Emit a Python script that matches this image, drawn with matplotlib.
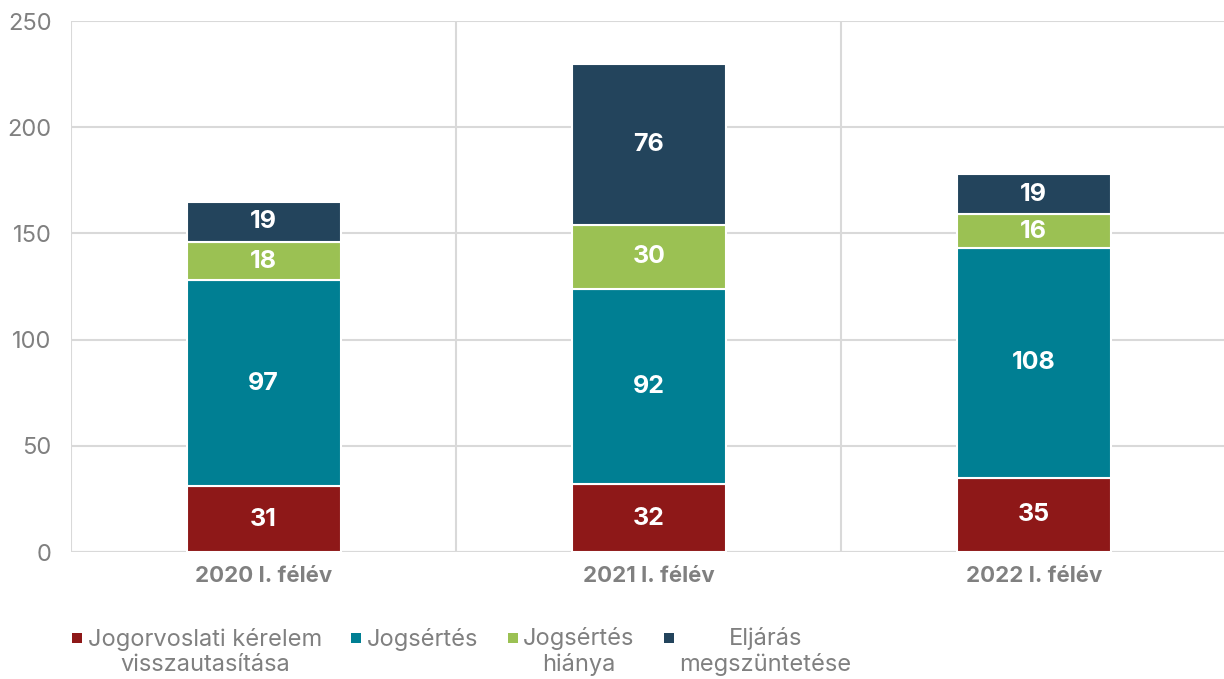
import matplotlib
matplotlib.use("Agg")
import matplotlib.pyplot as plt
from matplotlib.patches import Patch, Rectangle
from matplotlib.legend_handler import HandlerPatch
import numpy as np

categories = ["2020 I. félév", "2021 I. félév", "2022 I. félév"]
series_names = ["Jogorvoslati kérelem\nvisszautasítása", "Jogsértés",
                "Jogsértés\nhiánya", "Eljárás\nmegszüntetése"]
jogorvoslati = [31, 32, 35]
jogsertes = [97, 92, 108]
jogsertes_hianya = [18, 30, 16]
eljaras = [19, 76, 19]
colors = ["#8E1818", "#007F93", "#9BC153", "#23445C"]
yticks = [0, 50, 100, 150, 200, 250]

plt.rcParams['font.family'] = ['Inter', 'DejaVu Sans']

fig = plt.figure(figsize=(12.24, 6.79), dpi=100)
ax = fig.add_axes([0.058, 0.187, 0.944, 0.782])

x = np.arange(len(categories))
bottom = np.zeros(len(categories))
for vals, col in zip([jogorvoslati, jogsertes, jogsertes_hianya, eljaras], colors):
    v = np.array(vals, dtype=float)
    ax.bar(x, v, width=0.4, bottom=bottom, color=col,
           edgecolor="white", linewidth=1.5, zorder=3)
    for xi, b, vi in zip(x, bottom, v):
        ax.text(xi, b + vi / 2, f"{int(vi)}", ha="center", va="center",
                color="white", fontsize=18, fontweight="bold", zorder=4)
    bottom += v

ax.set_xlim(-0.5, 2.5)
ax.set_ylim(0, 250)
ax.set_yticks(yticks)
ax.set_yticklabels([str(t) for t in yticks], fontsize=17, color="#808080")
ax.set_xticks(x)
ax.set_xticklabels(categories, fontsize=16, fontweight="bold", color="#808080")
ax.tick_params(axis="both", length=0)
ax.tick_params(axis="y", pad=14)
ax.tick_params(axis="x", pad=10)

for s in ax.spines.values():
    s.set_visible(False)
ax.yaxis.grid(True, color="#d9d9d9", linewidth=1.5, zorder=0)
for xv in [-0.5, 0.5, 1.5, 2.5]:
    ax.axvline(xv, color="#d9d9d9", linewidth=1.5, zorder=0)
ax.axhline(0, color="#d9d9d9", linewidth=1.5, zorder=1)


class TopSquare(HandlerPatch):
    def create_artists(self, legend, orig_handle, xdescent, ydescent,
                       width, height, fontsize, trans):
        side = 0.42 * fontsize
        yoff = 0.6 * fontsize
        y0 = -ydescent + (height - side) / 2 + yoff
        p = Rectangle((-xdescent + (width - side) / 2, y0), side, side,
                      facecolor=orig_handle.get_facecolor(), edgecolor="none",
                      transform=trans)
        return [p]


handles = [Patch(facecolor=c, edgecolor="none") for c in colors]
labels = [n if "\n" in n else n + "\n " for n in series_names]
hmap = {h: TopSquare() for h in handles}
leg = fig.legend(handles, labels, loc="lower left",
                 bbox_to_anchor=(0.041, -0.027), ncol=4, frameon=False,
                 prop={"family": ["Inter", "DejaVu Sans"], "size": 17},
                 handlelength=0.5, handleheight=0.5, handletextpad=0.2,
                 columnspacing=1.2, labelcolor="#808080", handler_map=hmap)
for t in leg.get_texts():
    t.set_multialignment("center")
    t.set_linespacing(1.15)

fig.savefig("out.png", dpi=100)
